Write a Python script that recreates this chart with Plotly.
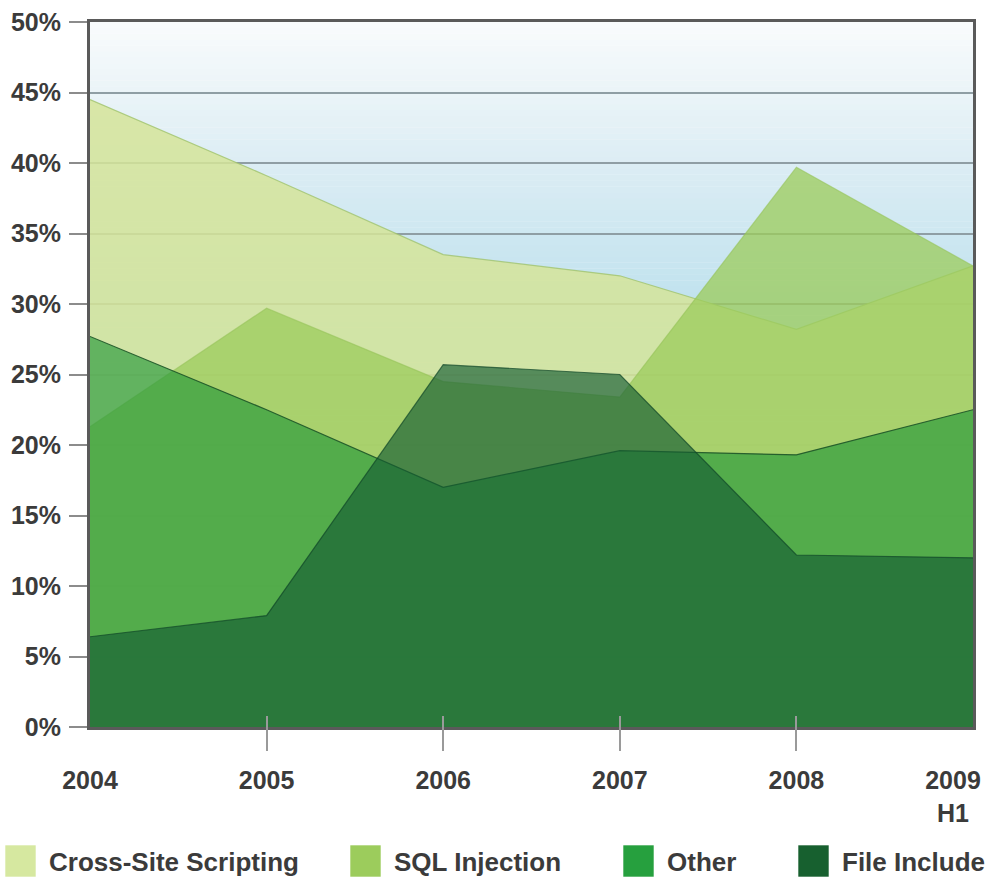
import plotly.graph_objects as go

# Share of web attack types by year (percent)
years = ["2004", "2005", "2006", "2007", "2008", "2009<br>H1"]
series_names = ["Cross-Site Scripting", "SQL Injection", "Other", "File Include"]
xss = [44.5, 39.1, 33.5, 32.0, 28.2, 32.7]
sql_injection = [21.3, 29.7, 24.5, 23.4, 39.7, 32.7]
other = [27.7, 22.5, 17.0, 19.6, 19.3, 22.5]
file_include = [6.4, 7.9, 25.7, 25.0, 12.2, 12.0]
y_ticks = list(range(0, 51, 5))

series_values = [xss, sql_injection, other, file_include]
fill_colors = ["rgba(213,228,153,0.85)", "rgba(156,204,92,0.76)",
               "rgba(34,150,55,0.63)", "rgba(20,92,50,0.65)"]
edge_colors = ["rgba(160,195,110,0.8)", "rgba(150,195,90,0.6)",
               "rgba(30,85,40,0.9)", "rgba(15,70,40,0.7)"]
legend_colors = ["#d6e8a0", "#9ccc5c", "#26a03e", "#17602f"]

W, H = 986, 878
ML, MR, MT, MB = 90, 13, 22, 127
TICK_DROP = 24  # distance from the bottom border to the free tick axis
plot_w = W - ML - MR
plot_h = H - MT - MB

x_idx = list(range(len(years)))
x_range = [x_idx[0], x_idx[-1]]
y_range = [y_ticks[0], y_ticks[-1]]

FONT = "Liberation Sans"
TEXT = "#3b3b3b"

fig = go.Figure()

for name, vals, fc, ec in zip(series_names, series_values, fill_colors, edge_colors):
    fig.add_trace(go.Scatter(
        x=x_idx, y=vals, name=name, mode="lines",
        line=dict(width=1.2, color=ec),
        fill="tozeroy", fillcolor=fc, showlegend=False,
        hovertemplate="%{y:.1f}%<extra>" + name + "</extra>",
    ))

# carrier trace for the overlaid tick axis
fig.add_trace(go.Scatter(x=[], y=[], xaxis="x2", yaxis="y", showlegend=False,
                         hoverinfo="skip"))

# vertical background gradient, light blue at the bottom fading to white
stops = [(0.0, (160, 212, 232)), (30.0, (192, 226, 238)),
         (40.0, (220, 237, 244)), (50.0, (249, 251, 252))]


def bg_color(v):
    for (a, ca), (b, cb) in zip(stops[:-1], stops[1:]):
        if a <= v <= b:
            t = (v - a) / (b - a)
            c = [round(ca[i] + (cb[i] - ca[i]) * t) for i in range(3)]
            return "rgb(%d,%d,%d)" % tuple(c)
    return "rgb(%d,%d,%d)" % stops[-1][1]


n_bands = 120
step = (y_range[1] - y_range[0]) / n_bands
shapes = []
for k in range(n_bands):
    y0 = y_range[0] + k * step
    shapes.append(dict(type="rect", xref="x", yref="y", layer="below",
                       x0=x_range[0], x1=x_range[1], y0=y0, y1=y0 + step * 1.05,
                       fillcolor=bg_color(y0 + step / 2), line=dict(width=0)))


def px_x(p):
    return (p - ML) / plot_w


def px_y(p):
    return (H - MB - p) / plot_h


# legend row along the bottom
legend_swatch_x = [5, 350, 623, 798]
sw_w, sw_top, sw_bot = 31, 845, 877
annotations = []
for name, col, sx in zip(series_names, legend_colors, legend_swatch_x):
    shapes.append(dict(type="rect", xref="paper", yref="paper",
                       x0=px_x(sx), x1=px_x(sx + sw_w),
                       y0=px_y(sw_bot), y1=px_y(sw_top),
                       fillcolor=col, line=dict(width=1, color="rgba(255,255,255,0.6)")))
    annotations.append(dict(xref="paper", yref="paper", x=px_x(sx + sw_w + 11),
                            y=px_y((sw_top + sw_bot) / 2 + 1), xanchor="left",
                            yanchor="middle", showarrow=False, text=name,
                            font=dict(family=FONT, size=26, color=TEXT, weight="bold")))

# the last label sits slightly inside the right border so it stays on the page
unit_px = plot_w / (x_range[1] - x_range[0])
label_pos = x_idx[:-1] + [x_idx[-1] - 20 / unit_px]
y_tick_text = ["%d%%" % v for v in y_ticks]

axis_font = dict(family=FONT, size=25, color=TEXT, weight="bold")

fig.update_layout(
    width=W, height=H,
    margin=dict(l=ML, r=MR, t=MT, b=MB, pad=0),
    paper_bgcolor="white", plot_bgcolor="white",
    showlegend=False,
    shapes=shapes, annotations=annotations,
    xaxis=dict(
        range=x_range, tickvals=label_pos, ticktext=years,
        showgrid=False, zeroline=False, automargin=False,
        showline=True, mirror=True, linecolor="#5a5a5a", linewidth=3,
        ticks="", ticklabelstandoff=29, tickfont=axis_font, anchor="y",
        ticklabeloverflow="allow",
    ),
    xaxis2=dict(
        range=x_range, overlaying="x", anchor="free", position=0,
        tickvals=x_idx[1:-1], ticks="inside", ticklen=35, tickwidth=2,
        tickcolor="#9a9a9a", showticklabels=False, showgrid=False,
        showline=False, zeroline=False, automargin=False,
    ),
    yaxis=dict(
        range=y_range, tickvals=y_ticks, ticktext=y_tick_text,
        domain=[TICK_DROP / plot_h, 1],
        showgrid=True, gridcolor="#8f9ea4", gridwidth=2,
        zeroline=False, automargin=False,
        showline=True, mirror=True, linecolor="#5a5a5a", linewidth=3,
        ticks="outside", ticklen=18, tickwidth=2, tickcolor="#8c8c8c",
        ticklabelstandoff=3, tickfont=axis_font, ticklabeloverflow="allow",
    ),
)

fig.write_html("out.html")
